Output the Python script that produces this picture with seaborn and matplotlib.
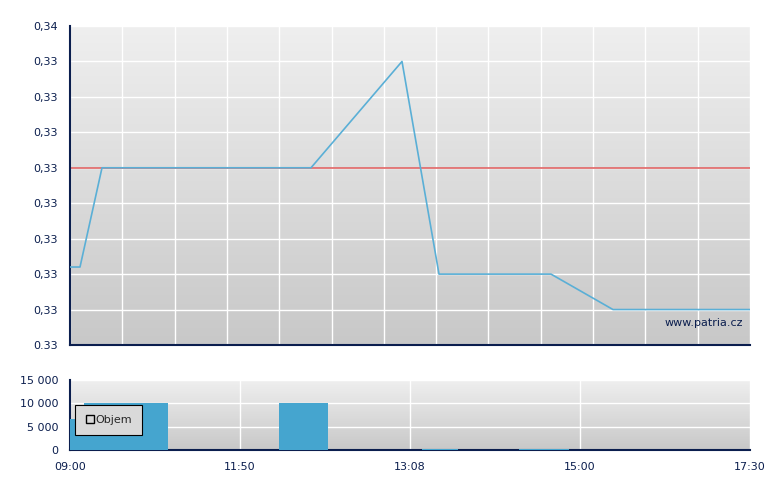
import numpy as np
import matplotlib
matplotlib.use('Agg')
import matplotlib.pyplot as plt
import seaborn as sns
from matplotlib.lines import Line2D

# cena: pozice na ose x (0 = 09:00, 510 = 17:30) a hodnoty
price_x = [0, 7.5, 24, 180.75, 249, 276.75, 360.75, 407.25, 510]
price_y = [0.3316, 0.3316, 0.3330, 0.3330, 0.3345, 0.3315, 0.3315, 0.3310, 0.3310]
prev_close = 0.3330

# objem: intervaly (od, do) a objem
vol_start = [0, 10.5, 156.75, 264, 336.75]
vol_end = [10.5, 73.5, 193.5, 291, 374.25]
vol_value = [6700, 10100, 10100, 200, 200]

price_ticks = [0.3305, 0.3310, 0.3315, 0.3320, 0.3325, 0.3330, 0.3335, 0.3340, 0.3345, 0.3350]
price_labels = ['0.33', '0,33', '0,33', '0,33', '0,33', '0,33', '0,33', '0,33', '0,33', '0,34']
time_labels = ['09:00', '11:50', '13:08', '15:00', '17:30']
vol_ticks = [0, 5000, 10000, 15000]
vol_labels = ['0', '5 000', '10 000', '15 000']

NAVY = '#0b1e4e'
BLUE = '#5aafd6'
BAR = '#45a5cf'

sns.set_style('white')
plt.rcParams['font.family'] = ['DejaVu Sans']
plt.rcParams['font.size'] = 8

fig = plt.figure(figsize=(7.8, 4.9), dpi=100)
ax1 = fig.add_axes([70 / 780, 1 - 345 / 490, 680 / 780, 319 / 490])
ax2 = fig.add_axes([70 / 780, 1 - 450 / 490, 680 / 780, 70 / 490])

grad = np.linspace(0, 1, 256).reshape(-1, 1)
gray_cmap = matplotlib.colors.LinearSegmentedColormap.from_list('g', ['#efefef', '#c8c8c8'])


def style_axes(ax, ymin, ymax):
    ax.imshow(grad, extent=[0, 510, ymin, ymax], aspect='auto', origin='upper',
              cmap=gray_cmap, zorder=0, interpolation='bicubic')
    ax.set_xlim(0, 510)
    ax.set_ylim(ymin, ymax)
    ax.set_axisbelow(True)
    ax.grid(True, color='white', linewidth=1.0)
    for s in ['top', 'right']:
        ax.spines[s].set_visible(False)
    for s in ['left', 'bottom']:
        ax.spines[s].set_color(NAVY)
        ax.spines[s].set_linewidth(1.5)
    ax.tick_params(colors=NAVY, labelcolor=NAVY, direction='out', length=5, width=1.2, labelsize=8)


# horni graf - cena
style_axes(ax1, price_ticks[0], price_ticks[-1])
ax1.axhline(prev_close, color='#e06565', linewidth=1.2, zorder=2)
sns.lineplot(x=price_x, y=price_y, ax=ax1, color=BLUE, linewidth=1.2, zorder=3)
ax1.set_yticks(price_ticks)
ax1.set_yticklabels(price_labels)
ax1.set_xticks(np.linspace(0, 510, 14))
ax1.set_xticklabels([])
ax1.text(0.99, 0.07, 'www.patria.cz', transform=ax1.transAxes, ha='right', va='center',
         color=NAVY, fontsize=8)

# spodni graf - objem
style_axes(ax2, 0, 15000)
widths = [e - s for s, e in zip(vol_start, vol_end)]
ax2.bar(vol_start, vol_value, width=widths, align='edge', color=BAR, linewidth=0, zorder=3)
ax2.set_yticks(vol_ticks)
ax2.set_yticklabels(vol_labels)
ax2.set_xticks(np.linspace(0, 510, len(time_labels)))
ax2.set_xticklabels(time_labels)

handle = Line2D([], [], marker='s', linestyle='none', markerfacecolor='none',
                markeredgecolor='black', markersize=6)
leg = ax2.legend([handle], ['Objem'], loc='upper left', bbox_to_anchor=(0.007, 0.645),
                 frameon=True, fancybox=False, framealpha=1, handletextpad=0.1,
                 borderpad=0.9, borderaxespad=0, handlelength=0.9, fontsize=8)
leg.get_frame().set_facecolor('#d9d9d9')
leg.get_frame().set_edgecolor('black')
leg.get_frame().set_linewidth(0.8)
leg.set_zorder(5)

fig.savefig('out.png', dpi=100)
